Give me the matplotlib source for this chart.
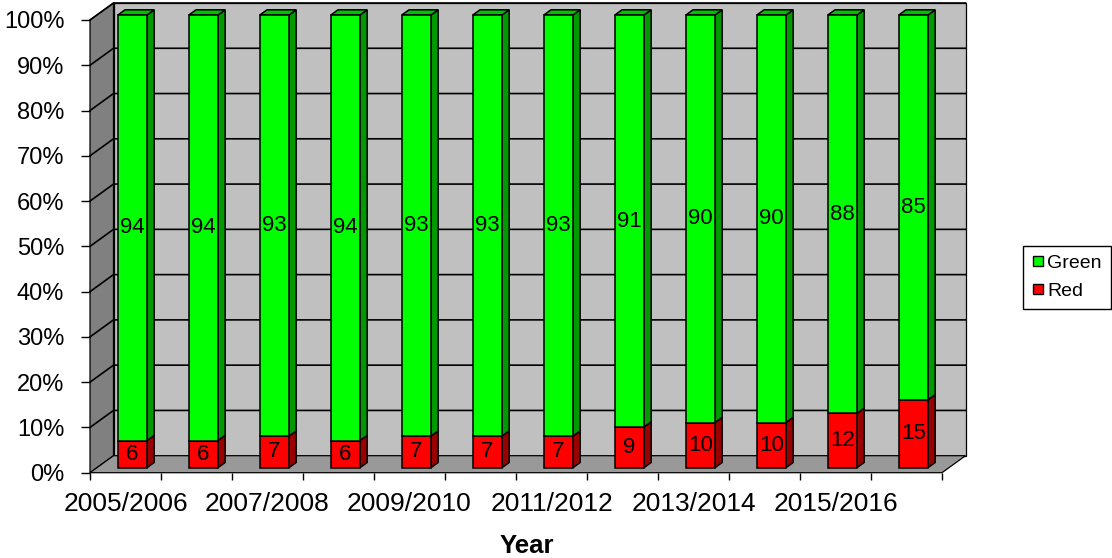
import matplotlib
matplotlib.use("Agg")
import matplotlib.pyplot as plt
from matplotlib.patches import Polygon
from matplotlib.lines import Line2D

plt.rcParams["font.family"] = ["Liberation Sans", "DejaVu Sans"]

# ---- data -------------------------------------------------------------
years = ["2005/2006", "2006/2007", "2007/2008", "2008/2009", "2009/2010",
         "2010/2011", "2011/2012", "2012/2013", "2013/2014", "2014/2015",
         "2015/2016", "2016/2017"]
green = [94, 94, 93, 94, 93, 93, 93, 91, 90, 90, 88, 85]
red = [6, 6, 7, 6, 7, 7, 7, 9, 10, 10, 12, 15]
series_names = ["Green", "Red"]
y_ticks = list(range(0, 101, 10))
y_tick_labels = [f"{v}%" for v in y_ticks]

# ---- pseudo-3D geometry (in data units of the front plane) -----------
DX = 0.331      # horizontal shift of the full depth, in categories
DY = 3.755      # vertical shift of the full depth, in percent units
BAR_W = 0.41    # bar width, in categories
F0, F1 = 0.29, 0.60   # front / back depth fraction of the bars

C_WALL = "#C0C0C0"
C_SIDEWALL = "#808080"
C_FLOOR = "#999999"
C_GREEN = ("#00FF00", "#009900", "#00C000")   # front, side, top
C_RED = ("#FF0000", "#990000", "#C00000")

fig = plt.figure(figsize=(11.12, 5.58), dpi=100)
ax = fig.add_axes([90 / 1112, 1 - 472.7 / 558, 852 / 1112, 452.7 / 558])
n = len(years)
ax.set_xlim(0, n)
ax.set_ylim(0, 100)
ax.patch.set_visible(False)
for s in ax.spines.values():
    s.set_visible(False)


def d(x, y, f):
    return (x + f * DX, y + f * DY)


def poly(pts, fc, z, lw=1.1, ec="black"):
    p = Polygon(pts, closed=True, facecolor=fc, edgecolor=ec, linewidth=lw,
                zorder=z, clip_on=False, joinstyle="miter")
    ax.add_patch(p)


# walls and floor
poly([d(0, 0, 1), d(n, 0, 1), d(n, 100, 1), d(0, 100, 1)], C_WALL, 1, 0.9)
poly([d(0, 0, 0), d(0, 0, 1), d(0, 100, 1), d(0, 100, 0)], C_SIDEWALL, 1, 0.9)
poly([d(0, 0, 0), d(n, 0, 0), d(n, 0, 1), d(0, 0, 1)], C_FLOOR, 1, 0.9)

# gridlines on the back wall and the side wall
for v in y_ticks[1:]:
    x0, y0 = d(0, v, 0)
    x1, y1 = d(0, v, 1)
    x2, y2 = d(n, v, 1)
    ax.plot([x0, x1, x2], [y0, y1, y2], color="black", lw=1.2, zorder=2,
            clip_on=False, solid_joinstyle="miter")


def segment(i, lo, hi, colors, with_top):
    cx = i + 0.5
    x0, x1 = cx - BAR_W / 2, cx + BAR_W / 2
    front, side, top = colors
    poly([d(x1, lo, F0), d(x1, lo, F1), d(x1, hi, F1), d(x1, hi, F0)], side, 3)
    if with_top:
        poly([d(x0, hi, F0), d(x1, hi, F0), d(x1, hi, F1), d(x0, hi, F1)], top, 3)
    poly([d(x0, lo, F0), d(x1, lo, F0), d(x1, hi, F0), d(x0, hi, F0)], front, 4)
    tx, ty = d(cx, (lo + hi) / 2, F0)
    ax.text(tx, ty, f"{hi - lo:g}", ha="center", va="center", fontsize=16,
            color="black", zorder=6)


for i in range(n):
    segment(i, 0, red[i], C_RED, False)
    segment(i, red[i], red[i] + green[i], C_GREEN, True)

# axes ticks
ax.set_yticks(y_ticks)
ax.set_yticklabels(y_tick_labels)
ax.tick_params(axis="y", direction="out", length=6.5, width=1.0, pad=12,
               labelsize=17, color="black")
ax.set_xticks(range(n + 1))
ax.set_xticklabels([""] * (n + 1))
ax.set_xticks([i + 0.5 for i in range(0, n, 2)], minor=True)
ax.set_xticklabels(years[::2], minor=True)
ax.tick_params(axis="x", which="major", direction="out", length=5, width=1.0)
ax.tick_params(axis="x", which="minor", length=0, pad=14, labelsize=19)

ax.set_xlabel("Year", fontsize=18.5, fontweight="bold")
ax.xaxis.set_label_coords((527 - 90) / 852, -0.135)

handles = [Line2D([], [], ls="none", marker="s", markersize=7.5,
                  markerfacecolor=C_GREEN[0], markeredgecolor="black",
                  markeredgewidth=1.0),
           Line2D([], [], ls="none", marker="s", markersize=7.5,
                  markerfacecolor=C_RED[0], markeredgecolor="black",
                  markeredgewidth=1.0)]
leg = fig.legend(handles, series_names, loc="center",
                 bbox_to_anchor=(1066.7 / 1112, 1 - 277.3 / 558),
                 fontsize=14, frameon=True, fancybox=False, framealpha=1,
                 edgecolor="black", handlelength=0.7, handletextpad=0.12,
                 labelspacing=0.55, borderpad=0.45, borderaxespad=0)
leg.get_frame().set_linewidth(1.0)

fig.savefig("out.png", dpi=100)
